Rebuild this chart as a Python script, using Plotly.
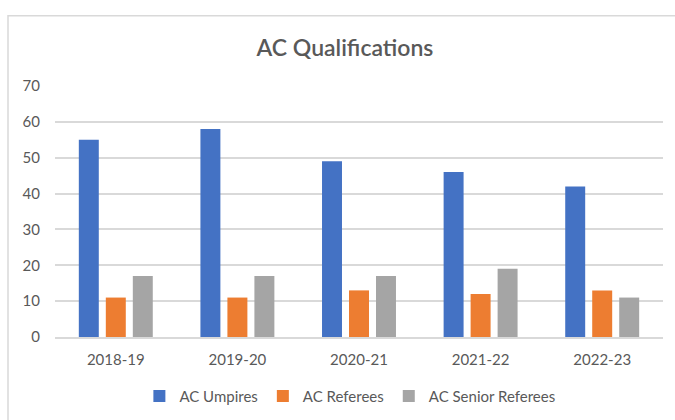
import plotly.graph_objects as go

categories = ["2018-19", "2019-20", "2020-21", "2021-22", "2022-23"]
umpires = [55, 58, 49, 46, 42]
referees = [11, 11, 13, 12, 13]
senior_referees = [17, 17, 17, 19, 11]

series_names = ["AC Umpires", "AC Referees", "AC Senior Referees"]
colors = ["#4472C4", "#ED7D31", "#A5A5A5"]

fig = go.Figure()
for name, vals, col in zip(series_names, [umpires, referees, senior_referees], colors):
    fig.add_trace(go.Bar(x=categories, y=vals, name=name, marker=dict(color=col, line=dict(width=0))))

font_family = "Lato, 'Open Sans', sans-serif"
text_col = "#595959"

fig.update_layout(
    width=675, height=420,
    paper_bgcolor="white", plot_bgcolor="white",
    margin=dict(l=55, r=12, t=86, b=83, autoexpand=False),
    barmode="group", bargap=0.334, bargroupgap=0.26,
    font=dict(family=font_family, color=text_col, size=14),
    title=dict(text="AC Qualifications", x=0.511, xanchor="center", y=0.886, yanchor="middle",
               font=dict(family=font_family, size=23, color=text_col, weight=600)),
    showlegend=True,
    legend=dict(orientation="h", x=0.485, xanchor="center", y=-0.236, yanchor="middle",
                font=dict(size=15, color=text_col), traceorder="normal",
                itemwidth=30),
    xaxis=dict(showgrid=False, showline=True, linecolor="#D9D9D9", linewidth=1.5, automargin=False,
               ticks="", tickfont=dict(size=15, color=text_col), ticklabelstandoff=8),
    yaxis=dict(range=[0, 70], dtick=10, showgrid=True, gridcolor="#D9D9D9", gridwidth=1.5,
               zeroline=False, showline=False, ticks="", automargin=False,
               tickfont=dict(size=15, color=text_col), ticklabelstandoff=14),
    shapes=[dict(type="rect", xref="paper", yref="paper", x0=-0.0773, x1=1.1, y0=-0.5, y1=1.28,
                 line=dict(color="#D9D9D9", width=1.5), fillcolor="rgba(0,0,0,0)", layer="below")],
)

fig.write_html("out.html", config={"displayModeBar": False},
               post_script="document.body.style.margin='0';")
